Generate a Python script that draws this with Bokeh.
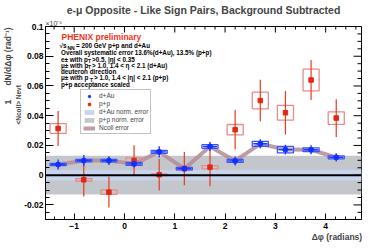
import numpy as np
from bokeh.plotting import figure
from bokeh.models import (Range1d, Label, Span, FixedTicker, Legend, LegendItem,
                          Title)
from bokeh.embed import file_html
from bokeh.resources import INLINE

# ---------------- data (units of 1e-6) ----------------
dphi = [-1.32, -0.81, -0.31, 0.19, 0.69, 1.19, 1.70, 2.20, 2.70, 3.20, 3.71, 4.21]

dau_y = [0.0072, 0.0098, 0.0098, 0.0076, 0.0157, 0.0044, 0.0193, 0.0096, 0.0211, 0.0172, 0.0171, 0.0120]
dau_err = [0.0034, 0.0037, 0.0030, 0.0025, 0.0038, 0.0016, 0.0030, 0.0030, 0.0030, 0.0033, 0.0030, 0.0028]
dau_sys = [0.0008, 0.0008, 0.0008, 0.0010, 0.0010, 0.0008, 0.0012, 0.0010, 0.0017, 0.0022, 0.0013, 0.0010]

pp_y = [0.0314, -0.0031, -0.0114, 0.0098, 0.0003, 0.0044, 0.0054, 0.0306, 0.0502, 0.0420, 0.0640, 0.0384]
pp_err = [0.0117, 0.0112, 0.0103, 0.0104, 0.0106, 0.0112, 0.0129, 0.0133, 0.0140, 0.0147, 0.0135, 0.0127]
pp_sys = [0.0033, 0.0008, 0.0015, 0.0018, 0.0005, 0.0008, 0.0011, 0.0035, 0.0056, 0.0050, 0.0073, 0.0042]

dau_norm = 0.0035
pp_norm = 0.0130

y_ticks = [-0.02, 0.0, 0.02, 0.04, 0.06, 0.08, 0.1]
y_tick_labels = ["-0.02", "0", "0.02", "0.04", "0.06", "0.08", "0.1"]
x_ticks = [-1, 0, 1, 2, 3, 4]

# ---------------- layout helpers ----------------
X0, X1 = -np.pi / 2, 3 * np.pi / 2
Y0, Y1 = -0.0298, 0.1
W, H = 374, 252
FL, FR, FT, FB = 45, 361, 26, 219   # frame edges in canvas pixels
PXX = (X1 - X0) / (FR - FL)          # data units per pixel
PXY = (Y1 - Y0) / (FB - FT)


def dx(px):
    return X0 + (px - FL) * PXX


def dy(py):
    return Y1 - (py - FT) * PXY


FONT = "Liberation Sans"
NB = "\u00a0"

p = figure(width=W, height=H, x_range=Range1d(X0, X1), y_range=Range1d(Y0, Y1),
           output_backend="svg", toolbar_location=None,
           min_border_left=FL, min_border_right=W - FR,
           min_border_top=FT, min_border_bottom=H - FB)
p.xgrid.visible = False
p.ygrid.visible = False
p.outline_line_color = "black"
p.outline_line_width = 1
p.background_fill_color = "white"
p.border_fill_color = "white"

p.title.text = "e-\u03bc Opposite - Like Sign Pairs, Background Subtracted"
p.title.align = "center"
p.title.vertical_align = "top"
p.title.text_font = FONT
p.title.text_font_size = "10.5px"
p.title.text_font_style = "bold"
p.title.standoff = 0
p.title.offset = 0

# "x10^-6" multiplier above the y axis
p.add_layout(Title(text="\u00d710\u207b\u2076", align="left", text_font=FONT,
                   text_font_size="7px", text_font_style="normal", standoff=0),
             "above")

for ax in (p.xaxis[0], p.yaxis[0]):
    ax.axis_line_color = "black"
    ax.axis_line_width = 1
    ax.major_tick_line_color = "black"
    ax.minor_tick_line_color = "black"
    ax.major_tick_out = 0
    ax.minor_tick_out = 0
    ax.major_label_text_font = FONT
    ax.major_label_text_font_style = "bold"
    ax.major_label_text_font_size = "8.5px"
    ax.major_label_text_color = "black"

xminor = list(np.round(np.arange(-1.4, 4.61, 0.2), 2))
p.xaxis[0].ticker = FixedTicker(ticks=x_ticks, minor_ticks=xminor)
p.xaxis[0].major_tick_in = 6
p.xaxis[0].minor_tick_in = 3
p.xaxis[0].major_label_standoff = 3
# centred axis label, padded on the left so that its visible part ends at the frame's right edge
p.xaxis[0].axis_label = NB * 113 + "\u0394\u03c6 (radians)"
p.xaxis[0].axis_label_text_font = FONT
p.xaxis[0].axis_label_text_font_size = "8.5px"
p.xaxis[0].axis_label_text_font_style = "bold"
p.xaxis[0].axis_label_standoff = 0
p.xaxis[0].axis_label_align = "center"

yminor = list(np.round(np.arange(-0.025, 0.1001, 0.005), 3))
p.yaxis[0].ticker = FixedTicker(ticks=y_ticks, minor_ticks=yminor)
p.yaxis[0].major_label_overrides = {t: l for t, l in zip(y_ticks, y_tick_labels)}
p.yaxis[0].major_tick_in = 8
p.yaxis[0].minor_tick_in = 4
p.yaxis[0].major_label_standoff = 2

# y axis title as two rotated lines (fraction denominator, then 1 ... dN/dphi (rad^-1))
p.add_layout(Title(text="<Ncoll> Nevt", align="left", offset=95, text_font=FONT,
                   text_font_size="6.5px", text_font_style="bold", standoff=0), "left")
p.add_layout(Title(text="1" + NB * 6 + "dN/d\u0394\u03c6 (rad\u207b\u00b9)",
                   align="left", offset=115, text_font=FONT, text_font_size="8.5px",
                   text_font_style="bold", standoff=0), "left")

# ---------------- normalisation bands ----------------
grey_band = p.varea(x=[X0, X1], y1=[-pp_norm, -pp_norm], y2=[pp_norm, pp_norm],
                    fill_color="#c3c7cb", fill_alpha=1)
blue_band = p.varea(x=[X0, X1], y1=[-dau_norm, -dau_norm], y2=[dau_norm, dau_norm],
                    fill_color="#c7d4ec", fill_alpha=1)

p.add_layout(Span(location=0, dimension="width", line_color="black", line_width=2))

# mirrored inward ticks on the right and top edges
yt = np.array(y_ticks)
ym = np.array([v for v in yminor if v not in y_ticks])
p.segment(x0=X1 - 8 * PXX, y0=yt, x1=X1, y1=yt, line_color="black", line_width=1)
p.segment(x0=X1 - 4 * PXX, y0=ym, x1=X1, y1=ym, line_color="black", line_width=1)
xt = np.array(x_ticks, dtype=float)
xm = np.array([v for v in xminor if abs(v - round(v)) > 1e-6])
p.segment(x0=xt, y0=Y1 - 6 * PXY, x1=xt, y1=Y1, line_color="black", line_width=1)
p.segment(x0=xm, y0=Y1 - 3 * PXY, x1=xm, y1=Y1, line_color="black", line_width=1)

# ---------------- Ncoll error line ----------------
ncoll = p.line(dphi, dau_y, line_color="#b48c96", line_width=4, line_alpha=0.85)

x = np.array(dphi)
dy_ = np.array(dau_y)
py_ = np.array(pp_y)

# systematic boxes
p.rect(x=x, y=py_, width=0.32, height=2 * np.array(pp_sys), fill_alpha=0,
       line_color="#e88a8a", line_width=1.3)
p.rect(x=x, y=dy_, width=0.32, height=2 * np.array(dau_sys), fill_alpha=0,
       line_color="#3a55ff", line_width=1.3)

# p+p statistical errors
p.segment(x0=x, y0=py_ - np.array(pp_err), x1=x, y1=py_ + np.array(pp_err),
          line_color="#e83a24", line_width=1.2)

# d+Au crosses
p.segment(x0=x, y0=dy_ - np.array(dau_err), x1=x, y1=dy_ + np.array(dau_err),
          line_color="#1a3cff", line_width=1.4)
p.segment(x0=x - 0.14, y0=dy_, x1=x + 0.14, y1=dy_,
          line_color="#1a3cff", line_width=1.4)

pp_pts = p.scatter(x, py_, marker="square", size=4.5, fill_color="#e02a10",
                   line_color="#e02a10")
dau_pts = p.scatter(x, dy_, marker="circle", size=5, fill_color="#1030ff",
                    line_color="#1030ff")

# ---------------- legend ----------------
legend = Legend(items=[
    LegendItem(label="d+Au", renderers=[dau_pts]),
    LegendItem(label="p+p", renderers=[pp_pts]),
    LegendItem(label="d+Au norm. error", renderers=[blue_band]),
    LegendItem(label="p+p norm. error", renderers=[grey_band]),
    LegendItem(label="Ncoll error", renderers=[ncoll]),
], location=(35, 85))
legend.label_text_font = FONT
legend.label_text_font_size = "6.5px"
legend.label_height = 6
legend.glyph_height = 6
legend.glyph_width = 12
legend.spacing = 1
legend.padding = 2
legend.margin = 0
legend.label_standoff = 4
legend.border_line_color = "#888888"
legend.border_line_width = 1
legend.background_fill_color = "white"
legend.background_fill_alpha = 1
p.add_layout(legend)

# ---------------- texts inside the frame ----------------
def lab(px, py, text, size, bold=True, color="black", align="left"):
    p.add_layout(Label(x=dx(px), y=dy(py), text=text, text_font=FONT,
                       text_font_size=size, text_font_style="bold" if bold else "normal",
                       text_color=color, text_align=align, text_baseline="middle"))


lab(61, 36.7, "PHENIX preliminary", "8.5px", color="#f0321e")
lab(59, 45.3, "\u221as", "6.5px")
lab(67, 47.3, "NN", "5px")
lab(75.5, 45.3, "= 200 GeV p+p and d+Au", "6.3px")
lab(60.5, 52, "Overall systematic error 13.6%(d+Au), 13.5% (p+p)", "6.3px")
lab(60.5, 58.5, "e\u00b1 with p", "6.3px")
lab(87.5, 60.3, "T", "5px")
lab(91.5, 58.5, ">0.5, |\u03b7| < 0.35", "6.3px")
lab(60.5, 64.8, "\u03bc\u00b1 with p", "6.3px")
lab(87.5, 66.6, "T", "5px")
lab(91.5, 64.8, "> 1.0, 1.4 < \u03b7 < 2.1 (d+Au)", "6.3px")
lab(60.5, 71.1, "deuteron direction", "6.3px")
lab(60.5, 77.4, "\u03bc\u00b1 with  p", "6.3px")
lab(89.5, 79.2, "T", "5px")
lab(93.5, 77.4, "> 1.0, 1.4 < |\u03b7| < 2.1 (p+p)", "6.3px")
lab(60.5, 83.7, "p+p acceptance scaled", "6.3px")

open("out.html", "w").write(file_html(p, INLINE))
